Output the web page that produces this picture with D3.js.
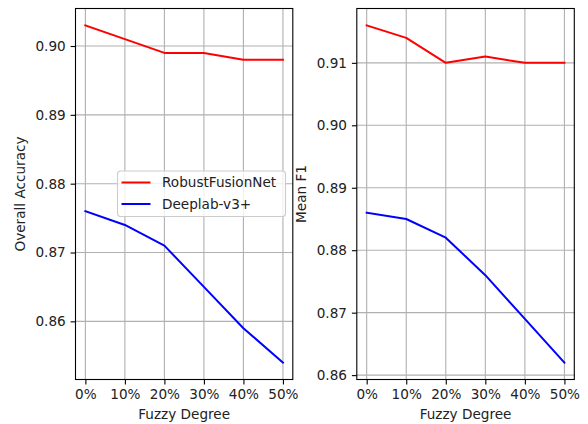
<!DOCTYPE html>
<html><head><meta charset="utf-8">
<script src="https://cdn.jsdelivr.net/npm/d3@7"></script>
<style>body{margin:0;background:#fff}svg text{font-family:"DejaVu Sans",sans-serif;fill:#222}</style>
</head><body><svg id="c" width="588" height="424"></svg>
<script>
const categories = ["0%","10%","20%","30%","40%","50%"];
const seriesNames = ["RobustFusionNet","Deeplab-v3+"];
const seriesColors = ["#ff0000","#0000ff"];
const oaRobust = [0.903,0.901,0.899,0.899,0.898,0.898];
const oaDeeplab = [0.876,0.874,0.871,0.865,0.859,0.854];
const f1Robust = [0.916,0.914,0.910,0.911,0.910,0.910];
const f1Deeplab = [0.886,0.885,0.882,0.876,0.869,0.862];
const oaTicks = [0.86,0.87,0.88,0.89,0.90];
const f1Ticks = [0.86,0.87,0.88,0.89,0.90,0.91];

const svg = d3.select("#c");
const FS = 13.6;

function panel(opt){
  const {x0,x1,y0,y1,series,ticks,ylabel,ylabelX,legend} = opt;
  const all = series.flat();
  const mn = d3.min(all), mx = d3.max(all), pad=(mx-mn)*0.05;
  const x = d3.scaleLinear().domain([-0.25, categories.length-1+0.25]).range([x0,x1]);
  const y = d3.scaleLinear().domain([mn-pad, mx+pad]).range([y1,y0]);
  const g = svg.append("g");
  // grid
  g.selectAll(".gx").data(categories).enter().append("line")
    .attr("x1",(d,i)=>x(i)).attr("x2",(d,i)=>x(i)).attr("y1",y0).attr("y2",y1)
    .attr("stroke","#b0b0b0").attr("stroke-width",1.1);
  g.selectAll(".gy").data(ticks).enter().append("line")
    .attr("x1",x0).attr("x2",x1).attr("y1",d=>y(d)).attr("y2",d=>y(d))
    .attr("stroke","#b0b0b0").attr("stroke-width",1.1);
  // lines
  const line = d3.line().x((d,i)=>x(i)).y(d=>y(d));
  series.forEach((s,k)=>{
    g.append("path").datum(s).attr("d",line).attr("fill","none")
      .attr("stroke",seriesColors[k]).attr("stroke-width",2).attr("stroke-linejoin","round").attr("stroke-linecap","square");
  });
  // axes
  const xa = d3.axisBottom(x).tickValues(d3.range(categories.length)).tickFormat(i=>categories[i]).tickSize(4.9).tickPadding(4.9);
  const ya = d3.axisLeft(y).tickValues(ticks).tickFormat(d3.format(".2f")).tickSize(4.9).tickPadding(4.9);
  const gx = g.append("g").attr("transform",`translate(0,${y1})`).call(xa);
  const gy = g.append("g").attr("transform",`translate(${x0},0)`).call(ya);
  [gx,gy].forEach(a=>{
    a.select(".domain").remove();
    a.selectAll("line").attr("stroke","#000").attr("stroke-width",1.1);
    a.selectAll("text").attr("font-size",FS).attr("fill","#222").style("font-family","DejaVu Sans");
  });
  g.append("rect").attr("x",x0).attr("y",y0).attr("width",x1-x0).attr("height",y1-y0)
    .attr("fill","none").attr("stroke","#000").attr("stroke-width",1.1);
  // labels
  g.append("text").attr("x",(x0+x1)/2).attr("y",419).attr("text-anchor","middle").attr("font-size",FS).text("Fuzzy Degree");
  g.append("text").attr("transform",`translate(${ylabelX},${(y0+y1)/2}) rotate(-90)`).attr("text-anchor","middle")
    .attr("dy","0.35em").attr("font-size",FS).text(ylabel);
  if(legend){
    const lg = g.append("g");
    lg.append("rect").attr("x",117.5).attr("y",171).attr("width",168).attr("height",45.5).attr("rx",3)
      .attr("fill","#fff").attr("fill-opacity",0.8).attr("stroke","#cccccc").attr("stroke-width",1.1);
    seriesNames.forEach((n,k)=>{
      const yy = 182.5 + k*21.5;
      lg.append("line").attr("x1",121.5).attr("x2",150.5).attr("y1",yy).attr("y2",yy)
        .attr("stroke",seriesColors[k]).attr("stroke-width",2);
      lg.append("text").attr("x",162).attr("y",yy).attr("dy","0.35em").attr("font-size",FS).text(n);
    });
  }
}
panel({x0:75.5,x1:292.8,y0:8.5,y1:379.5,series:[oaRobust,oaDeeplab],ticks:oaTicks,ylabel:"Overall Accuracy",ylabelX:20,legend:true});
panel({x0:356.8,x1:574.3,y0:8.5,y1:379.5,series:[f1Robust,f1Deeplab],ticks:f1Ticks,ylabel:"Mean F1",ylabelX:301.5,legend:false});
</script></body></html>
